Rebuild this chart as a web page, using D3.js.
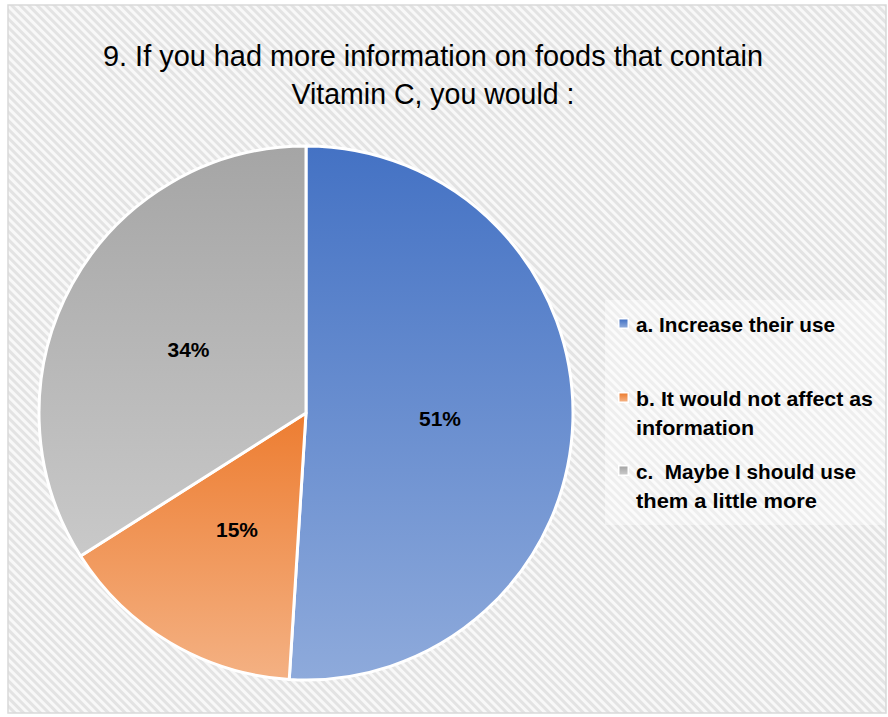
<!DOCTYPE html>
<html><head><meta charset="utf-8">
<script src="https://cdn.jsdelivr.net/npm/d3@7"></script>
<style>body{margin:0;background:#fff}svg{display:block}text{white-space:pre}</style>
</head><body>
<script>
const categories = ["a. Increase their use", "b. It would not affect as information", "c.  Maybe I should use them a little more"];
const values = [51, 15, 34];
const labels = ["51%", "15%", "34%"];
const legendLines = [["a. Increase their use"], ["b. It would not affect as", "information"], ["c.  Maybe I should use", "them a little more"]];
const titleLines = ["9. If you had more information on foods that contain", "Vitamin C, you would :"];
const gradTop = ["#4472c4", "#ed7d31", "#a5a5a5"];
const gradBottom = ["#8eaadb", "#f4b183", "#c9c9c9"];

const W = 888, H = 717;
const svg = d3.select("body").append("svg").attr("width", W).attr("height", H);
const defs = svg.append("defs");
const pat = defs.append("pattern").attr("id", "hatch").attr("patternUnits", "userSpaceOnUse")
  .attr("width", 6).attr("height", 6).attr("patternTransform", "rotate(45)");
pat.append("rect").attr("width", 6).attr("height", 6).attr("fill", "#f8f8f8");
pat.append("rect").attr("width", 6).attr("height", 3).attr("fill", "#e3e3e3");

categories.forEach((c, i) => {
  const g = defs.append("linearGradient").attr("id", "g" + i).attr("x1", 0).attr("y1", 0).attr("x2", 0).attr("y2", 1);
  g.append("stop").attr("offset", "0%").attr("stop-color", gradTop[i]);
  g.append("stop").attr("offset", "100%").attr("stop-color", gradBottom[i]);
});

svg.append("rect").attr("x", 8).attr("y", 5).attr("width", 878).attr("height", 708)
  .attr("fill", "url(#hatch)").attr("stroke", "#d9d9d9").attr("stroke-width", 1.5);

// title
const titleY = [66, 104];
const titleW = [660, 283];
titleLines.forEach((t, i) => {
  svg.append("text").attr("x", 433).attr("y", titleY[i]).attr("text-anchor", "middle")
    .attr("font-family", "Liberation Sans, Arial, sans-serif").attr("font-size", 29.5)
    .attr("fill", "#000").attr("textLength", titleW[i]).attr("lengthAdjust", "spacingAndGlyphs").text(t);
});

// pie
const cx = 306, cy = 413, r = 267;
const pie = d3.pie().sort(null).value(d => d);
const arcs = pie(values);
const arc = d3.arc().innerRadius(0).outerRadius(r);
const gp = svg.append("g").attr("transform", `translate(${cx},${cy})`);
gp.selectAll("path").data(arcs).enter().append("path")
  .attr("d", arc).attr("fill", (d, i) => `url(#g${i})`)
  .attr("stroke", "#fff").attr("stroke-width", 3).attr("stroke-linejoin", "round");

const labelPos = [[440, 426], [237, 537], [188.5, 357]];
arcs.forEach((d, i) => {
  svg.append("text").attr("x", labelPos[i][0]).attr("y", labelPos[i][1]).attr("text-anchor", "middle")
    .attr("font-family", "Liberation Sans, Arial, sans-serif").attr("font-weight", "bold").attr("font-size", 20)
    .attr("fill", "#000").attr("textLength", 42).attr("lengthAdjust", "spacingAndGlyphs").text(labels[i]);
});

// legend
svg.append("rect").attr("x", 605).attr("y", 300).attr("width", 280).attr("height", 225)
  .attr("fill", "#fff").attr("opacity", 0.4);
const legY = [332, 406, 479];
const legW = [[199], [237, 118], [220, 181]];
legendLines.forEach((lines, i) => {
  svg.append("rect").attr("x", 618).attr("y", legY[i] - 14).attr("width", 11).attr("height", 11).attr("fill", "#fff");
  svg.append("rect").attr("x", 619.5).attr("y", legY[i] - 12.5).attr("width", 8).attr("height", 8).attr("fill", `url(#g${i})`);
  lines.forEach((l, j) => {
    svg.append("text").attr("x", 636).attr("y", legY[i] + j * 29)
      .attr("font-family", "Liberation Sans, Arial, sans-serif").attr("font-weight", "bold").attr("font-size", 20.5)
      .attr("fill", "#000").attr("textLength", legW[i][j]).attr("lengthAdjust", "spacingAndGlyphs").text(l);
  });
});
</script>
</body></html>
